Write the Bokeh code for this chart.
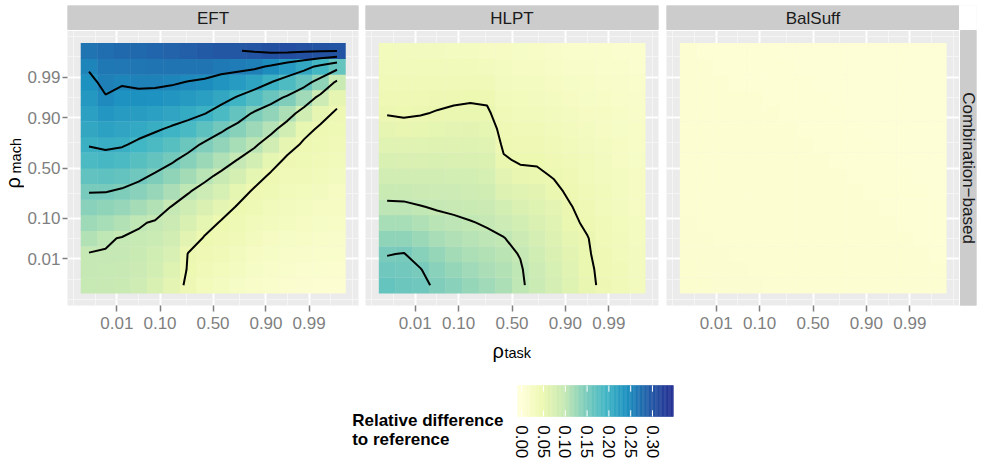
import numpy as np
from statistics import NormalDist

from bokeh.plotting import figure
from bokeh.layouts import row, column
from bokeh.models import Range1d, FixedTicker, Grid, LinearColorMapper, ColumnDataSource
from bokeh.transform import transform
from bokeh.core.properties import value
from bokeh.embed import file_html
from bokeh.resources import INLINE

# ---------------------------------------------------------------- data
# simulation grid, in probit (normal quantile) units, shared by rho_task and rho_mach
grid_q = [-3.0, -2.6, -2.2, -1.8, -1.4, -1.0, -0.6, -0.2, 0.2, 0.6, 1.0, 1.4, 1.8, 2.2, 2.6, 3.0]

tick_probs = [0.01, 0.10, 0.50, 0.90, 0.99]
tick_labels = ["0.01", "0.10", "0.50", "0.90", "0.99"]

heuristics = ["EFT", "HLPT", "BalSuff"]
row_label = "Combination\u2212based"

# relative difference to reference; one inner list per rho_task column,
# values ordered by rho_mach from low to high
eft = [
    [0.097, 0.098, 0.099, 0.111, 0.124, 0.138, 0.151, 0.169, 0.186, 0.202, 0.212, 0.222, 0.232, 0.242, 0.254, 0.270],
    [0.096, 0.097, 0.099, 0.102, 0.118, 0.134, 0.151, 0.170, 0.189, 0.206, 0.220, 0.234, 0.248, 0.258, 0.266, 0.275],
    [0.094, 0.096, 0.098, 0.099, 0.111, 0.129, 0.146, 0.166, 0.185, 0.203, 0.216, 0.228, 0.241, 0.253, 0.267, 0.280],
    [0.088, 0.091, 0.094, 0.097, 0.102, 0.120, 0.138, 0.157, 0.175, 0.194, 0.211, 0.227, 0.242, 0.256, 0.268, 0.280],
    [0.075, 0.081, 0.086, 0.092, 0.098, 0.111, 0.129, 0.146, 0.166, 0.185, 0.204, 0.222, 0.240, 0.256, 0.270, 0.283],
    [0.060, 0.068, 0.076, 0.083, 0.091, 0.099, 0.116, 0.135, 0.154, 0.175, 0.196, 0.216, 0.235, 0.254, 0.269, 0.285],
    [0.046, 0.048, 0.049, 0.062, 0.075, 0.088, 0.102, 0.121, 0.140, 0.161, 0.187, 0.210, 0.230, 0.249, 0.270, 0.290],
    [0.035, 0.039, 0.044, 0.048, 0.059, 0.074, 0.090, 0.107, 0.126, 0.145, 0.172, 0.201, 0.223, 0.245, 0.269, 0.295],
    [0.030, 0.035, 0.039, 0.044, 0.048, 0.060, 0.077, 0.094, 0.113, 0.133, 0.155, 0.185, 0.212, 0.236, 0.264, 0.298],
    [0.025, 0.030, 0.034, 0.039, 0.043, 0.048, 0.059, 0.079, 0.099, 0.119, 0.140, 0.166, 0.197, 0.228, 0.261, 0.299],
    [0.020, 0.025, 0.029, 0.034, 0.038, 0.043, 0.047, 0.059, 0.082, 0.105, 0.125, 0.146, 0.181, 0.218, 0.257, 0.303],
    [0.016, 0.020, 0.025, 0.029, 0.034, 0.038, 0.043, 0.047, 0.059, 0.084, 0.109, 0.133, 0.162, 0.201, 0.246, 0.308],
    [0.013, 0.017, 0.021, 0.025, 0.030, 0.034, 0.038, 0.042, 0.046, 0.058, 0.085, 0.114, 0.145, 0.183, 0.230, 0.309],
    [0.011, 0.015, 0.019, 0.023, 0.027, 0.031, 0.035, 0.039, 0.043, 0.047, 0.056, 0.086, 0.122, 0.164, 0.213, 0.306],
    [0.010, 0.014, 0.017, 0.021, 0.025, 0.029, 0.032, 0.036, 0.040, 0.043, 0.047, 0.057, 0.090, 0.135, 0.192, 0.304],
    [0.009, 0.012, 0.016, 0.019, 0.022, 0.026, 0.029, 0.033, 0.036, 0.040, 0.043, 0.047, 0.057, 0.094, 0.165, 0.302],
]

hlpt = [
    [0.165, 0.157, 0.149, 0.134, 0.119, 0.104, 0.094, 0.084, 0.075, 0.066, 0.057, 0.049, 0.045, 0.042, 0.038, 0.035],
    [0.160, 0.155, 0.151, 0.135, 0.119, 0.104, 0.093, 0.083, 0.074, 0.064, 0.055, 0.048, 0.045, 0.041, 0.038, 0.034],
    [0.157, 0.151, 0.140, 0.126, 0.113, 0.101, 0.091, 0.083, 0.074, 0.065, 0.056, 0.049, 0.045, 0.041, 0.037, 0.033],
    [0.145, 0.138, 0.131, 0.117, 0.107, 0.098, 0.090, 0.083, 0.075, 0.067, 0.059, 0.051, 0.046, 0.041, 0.037, 0.032],
    [0.138, 0.130, 0.121, 0.112, 0.104, 0.096, 0.089, 0.082, 0.074, 0.067, 0.060, 0.053, 0.047, 0.042, 0.036, 0.031],
    [0.130, 0.123, 0.115, 0.108, 0.101, 0.094, 0.088, 0.081, 0.074, 0.068, 0.061, 0.054, 0.048, 0.042, 0.036, 0.030],
    [0.122, 0.116, 0.110, 0.104, 0.098, 0.091, 0.085, 0.078, 0.072, 0.066, 0.059, 0.053, 0.047, 0.040, 0.034, 0.028],
    [0.115, 0.110, 0.105, 0.101, 0.090, 0.081, 0.071, 0.062, 0.052, 0.047, 0.044, 0.040, 0.037, 0.033, 0.030, 0.026],
    [0.103, 0.102, 0.099, 0.091, 0.082, 0.073, 0.064, 0.055, 0.048, 0.045, 0.041, 0.038, 0.035, 0.031, 0.028, 0.024],
    [0.092, 0.089, 0.085, 0.080, 0.074, 0.068, 0.061, 0.053, 0.048, 0.044, 0.040, 0.037, 0.033, 0.030, 0.026, 0.022],
    [0.080, 0.077, 0.073, 0.069, 0.065, 0.060, 0.054, 0.049, 0.045, 0.041, 0.037, 0.034, 0.030, 0.027, 0.023, 0.020],
    [0.068, 0.065, 0.062, 0.058, 0.054, 0.051, 0.047, 0.044, 0.041, 0.037, 0.034, 0.031, 0.028, 0.025, 0.021, 0.018],
    [0.055, 0.054, 0.052, 0.051, 0.047, 0.044, 0.041, 0.038, 0.036, 0.033, 0.030, 0.028, 0.025, 0.022, 0.020, 0.017],
    [0.046, 0.045, 0.044, 0.042, 0.040, 0.038, 0.036, 0.034, 0.032, 0.030, 0.028, 0.026, 0.023, 0.021, 0.018, 0.016],
    [0.040, 0.039, 0.038, 0.036, 0.035, 0.033, 0.031, 0.030, 0.028, 0.026, 0.024, 0.023, 0.021, 0.019, 0.017, 0.015],
    [0.034, 0.033, 0.032, 0.031, 0.030, 0.029, 0.027, 0.026, 0.025, 0.023, 0.022, 0.020, 0.019, 0.017, 0.015, 0.014],
]

balsuff = [
    [0.012, 0.012, 0.011, 0.011, 0.011, 0.010, 0.010, 0.010, 0.009, 0.009, 0.009, 0.009, 0.008, 0.008, 0.008, 0.008],
    [0.012, 0.011, 0.011, 0.011, 0.010, 0.010, 0.010, 0.010, 0.009, 0.009, 0.009, 0.008, 0.008, 0.008, 0.008, 0.007],
    [0.011, 0.011, 0.011, 0.010, 0.010, 0.010, 0.010, 0.009, 0.009, 0.009, 0.009, 0.008, 0.008, 0.008, 0.007, 0.007],
    [0.011, 0.011, 0.010, 0.010, 0.010, 0.010, 0.009, 0.009, 0.009, 0.009, 0.008, 0.008, 0.008, 0.007, 0.007, 0.007],
    [0.011, 0.010, 0.010, 0.010, 0.010, 0.009, 0.009, 0.009, 0.009, 0.008, 0.008, 0.008, 0.008, 0.007, 0.007, 0.007],
    [0.010, 0.010, 0.010, 0.010, 0.009, 0.009, 0.009, 0.009, 0.008, 0.008, 0.008, 0.008, 0.007, 0.007, 0.007, 0.007],
    [0.010, 0.010, 0.010, 0.009, 0.009, 0.009, 0.009, 0.008, 0.008, 0.008, 0.008, 0.007, 0.007, 0.007, 0.007, 0.006],
    [0.010, 0.010, 0.009, 0.009, 0.009, 0.009, 0.008, 0.008, 0.008, 0.008, 0.007, 0.007, 0.007, 0.007, 0.006, 0.006],
    [0.010, 0.009, 0.009, 0.009, 0.009, 0.008, 0.008, 0.008, 0.008, 0.007, 0.007, 0.007, 0.007, 0.006, 0.006, 0.006],
    [0.009, 0.009, 0.009, 0.009, 0.008, 0.008, 0.008, 0.008, 0.007, 0.007, 0.007, 0.007, 0.006, 0.006, 0.006, 0.006],
    [0.009, 0.009, 0.009, 0.008, 0.008, 0.008, 0.008, 0.007, 0.007, 0.007, 0.007, 0.006, 0.006, 0.006, 0.006, 0.005],
    [0.009, 0.009, 0.008, 0.008, 0.008, 0.008, 0.007, 0.007, 0.007, 0.007, 0.006, 0.006, 0.006, 0.006, 0.005, 0.005],
    [0.009, 0.008, 0.008, 0.008, 0.008, 0.007, 0.007, 0.007, 0.007, 0.006, 0.006, 0.006, 0.006, 0.005, 0.005, 0.005],
    [0.008, 0.008, 0.008, 0.008, 0.007, 0.007, 0.007, 0.007, 0.006, 0.006, 0.006, 0.006, 0.005, 0.005, 0.005, 0.005],
    [0.008, 0.008, 0.008, 0.007, 0.007, 0.007, 0.007, 0.006, 0.006, 0.006, 0.006, 0.005, 0.005, 0.005, 0.005, 0.004],
    [0.008, 0.008, 0.007, 0.007, 0.007, 0.007, 0.006, 0.006, 0.006, 0.006, 0.005, 0.005, 0.005, 0.005, 0.004, 0.004],
]

contour_levels = [0.05, 0.10, 0.15, 0.20, 0.25, 0.30]
legend_breaks = [0.00, 0.05, 0.10, 0.15, 0.20, 0.25, 0.30]
legend_labels = ["0.00", "0.05", "0.10", "0.15", "0.20", "0.25", "0.30"]
fill_low, fill_high = 0.0, 0.339
legend_title = ["Relative difference", "to reference"]

# ---------------------------------------------------------------- style / geometry
FONT = "Liberation Sans"
GREY_TEXT = "#7F7F7F"
PANEL_BG = "#EBEBEB"
STRIP_BG = "#CCCCCC"

LIM = 3.52              # half extent of each panel, probit units
PANEL_W, PANEL_H = 293, 275
STRIP_H = 25            # top strip incl. 1px gap
RSTRIP_W = 17           # right strip incl. 1px gap
TOP_H = 338
TOP_BORDER = 5
BOTTOM_BORDER = TOP_H - TOP_BORDER - STRIP_H - PANEL_H
TOTAL_W, TOTAL_H = 988, 471
FRAME1_LEFT = 65        # left edge of the first panel
YTITLE_W = 24
PXX = PANEL_W / (2 * LIM)
PXY = PANEL_H / (2 * LIM)

ylgnbu = ["#ffffd9", "#edf8b1", "#c7e9b4", "#7fcdbb", "#41b6c4", "#1d91c0", "#225ea8", "#253494"]


def ramp(stops, n=256):
    rgb = np.array([[int(c[i:i + 2], 16) for i in (1, 3, 5)] for c in stops], dtype=float)
    pos = np.linspace(0, 1, len(stops))
    t = np.linspace(0, 1, n)
    out = np.stack([np.interp(t, pos, rgb[:, k]) for k in range(3)], axis=1)
    return ["#%02x%02x%02x" % tuple(int(round(v)) for v in c) for c in out]


mapper = LinearColorMapper(palette=ramp(ylgnbu), low=fill_low, high=fill_high)

nd = NormalDist()
ticks_q = [nd.inv_cdf(p) for p in tick_probs]
ext = [2 * ticks_q[0] - ticks_q[1]] + ticks_q + [2 * ticks_q[-1] - ticks_q[-2]]
minor_q = [ext[0]] + [(a + b) / 2 for a, b in zip(ext[:-1], ext[1:])] + [ext[-1]]
overrides = {t: lab for t, lab in zip(ticks_q, tick_labels)}


def style_axis(ax, tick_out, standoff):
    ax.ticker = FixedTicker(ticks=ticks_q)
    ax.major_label_overrides = overrides
    ax.axis_line_color = None
    ax.major_tick_line_color = GREY_TEXT
    ax.major_tick_line_width = 1.5
    ax.major_tick_out = tick_out
    ax.major_tick_in = 0
    ax.minor_tick_line_color = None
    ax.major_label_text_font = FONT
    ax.major_label_text_font_size = "17px"
    ax.major_label_text_color = GREY_TEXT
    ax.major_label_standoff = standoff


def style_grid(g):
    g.ticker = FixedTicker(ticks=ticks_q, minor_ticks=minor_q)
    g.grid_line_color = "white"
    g.grid_line_width = 2
    g.minor_grid_line_color = "#F5F5F5"
    g.minor_grid_line_width = 1


def make_panel(name, cols, left_border, right_border, first=False, last=False):
    z = np.array(cols).T                     # rows: rho_mach, columns: rho_task
    gx, gy = np.meshgrid(grid_q, grid_q)
    step = grid_q[1] - grid_q[0]
    x_end = LIM + (RSTRIP_W / PXX if last else 0.0)
    y_end = LIM + STRIP_H / PXY
    frame_w = PANEL_W + (RSTRIP_W if last else 0)

    p = figure(width=left_border + frame_w + right_border, height=TOP_H,
               x_range=Range1d(-LIM, x_end), y_range=Range1d(-LIM, y_end),
               output_backend="svg", toolbar_location=None, title=None,
               y_axis_location="left" if first else None,
               min_border_left=left_border, min_border_right=right_border,
               min_border_top=TOP_BORDER, min_border_bottom=BOTTOM_BORDER,
               background_fill_color=PANEL_BG, border_fill_color="white",
               outline_line_color=None)

    style_axis(p.xaxis[0], 6, 5)
    for g in p.xgrid:
        style_grid(g)
    if first:
        style_axis(p.yaxis[0], 5, 2)
    if len(p.ygrid) == 0:
        p.add_layout(Grid(dimension=1))
    for g in p.ygrid:
        style_grid(g)

    # raster tiles
    src = ColumnDataSource(dict(x=gx.ravel(), y=gy.ravel(), z=z.ravel()))
    p.rect("x", "y", width=step, height=step, source=src, dilate=True,
           fill_color=transform("z", mapper), line_color=None)

    # iso-lines
    levels = [lv for lv in contour_levels if z.min() < lv < z.max()]
    if levels:
        p.contour(grid_q, grid_q, z, levels=levels, line_color="black", line_width=2)

    # facet strip on top
    gap_y = 1 / PXY
    p.quad(left=[-LIM], right=[x_end], bottom=[LIM], top=[LIM + gap_y], color="white")
    p.quad(left=[-LIM], right=[LIM], bottom=[LIM + gap_y], top=[y_end], color=STRIP_BG)
    p.text(x=[0], y=[LIM + 12.5 / PXY], text=[name],
           text_align="center", text_baseline="middle",
           text_font=value(FONT), text_font_size="17px", text_color="#1A1A1A")

    if last:
        gap_x = 1 / PXX
        p.quad(left=[LIM], right=[LIM + gap_x], bottom=[-LIM], top=[y_end], color="white")
        p.quad(left=[LIM], right=[x_end], bottom=[LIM], top=[y_end], color="white")
        p.quad(left=[LIM + gap_x], right=[x_end], bottom=[-LIM], top=[LIM], color=STRIP_BG)
        p.text(x=[LIM + (RSTRIP_W / 2 + 0.5) / PXX], y=[0], text=[row_label], angle=-np.pi / 2,
               text_align="center", text_baseline="middle",
               text_font=value(FONT), text_font_size="17px", text_color="#1A1A1A")
    return p


f1_w = FRAME1_LEFT - YTITLE_W + PANEL_W + 3
f1 = make_panel(heuristics[0], eft, FRAME1_LEFT - YTITLE_W, 3, first=True)
f2 = make_panel(heuristics[1], hlpt, 4, 4)
f3 = make_panel(heuristics[2], balsuff, 4,
                TOTAL_W - YTITLE_W - f1_w - (PANEL_W + 8) - 4 - PANEL_W - RSTRIP_W, last=True)

# y axis title: rho with subscript "mach", reading upwards
ytitle = figure(width=YTITLE_W, height=TOP_H, x_range=Range1d(0, YTITLE_W), y_range=f1.y_range,
                output_backend="svg", toolbar_location=None, title=None,
                x_axis_location=None, y_axis_location=None,
                min_border_left=0, min_border_right=0,
                min_border_top=TOP_BORDER, min_border_bottom=BOTTOM_BORDER,
                background_fill_color="white", border_fill_color="white", outline_line_color=None)
for g in ytitle.grid:
    g.visible = False
ytitle.text(x=[12], y=[LIM - 158 / PXY], text=["\u03c1"], angle=np.pi / 2,
            text_align="left", text_baseline="alphabetic",
            text_font=value(FONT), text_font_size="20px", text_color="black")
ytitle.text(x=[15], y=[LIM - 143 / PXY], text=["mach"], angle=np.pi / 2,
            text_align="left", text_baseline="alphabetic",
            text_font=value(FONT), text_font_size="14.5px", text_color="black")

# ---------------------------------------------------------------- x title + colour bar legend
BAR_PX0, BAR_PPU = 521.2, 436.0       # pixel of value 0 and pixels per unit
leg_h = TOTAL_H - TOP_H
leg = figure(width=TOTAL_W, height=leg_h,
             x_range=Range1d(-BAR_PX0 / BAR_PPU, (TOTAL_W - BAR_PX0) / BAR_PPU),
             y_range=Range1d(0, leg_h),
             output_backend="svg", toolbar_location=None, title=None,
             x_axis_location=None, y_axis_location=None,
             min_border_left=0, min_border_right=0, min_border_top=0, min_border_bottom=0,
             background_fill_color="white", border_fill_color="white", outline_line_color=None)
for g in leg.grid:
    g.visible = False

# x axis title: rho with subscript "task", centred under the middle panel
leg.text(x=[(492 - BAR_PX0) / BAR_PPU], y=[TOTAL_H - 350], text=["\u03c1"],
         text_align="left", text_baseline="alphabetic",
         text_font=value(FONT), text_font_size="20px", text_color="black")
leg.text(x=[(504 - BAR_PX0) / BAR_PPU], y=[TOTAL_H - 352.5], text=["task"],
         text_align="left", text_baseline="alphabetic",
         text_font=value(FONT), text_font_size="14.5px", text_color="black")

# gradient bar: spans the fill limits plus half a 20-bin step on each side
half = (fill_high - fill_low) / 19 / 2
n_slices = 120
edges = np.linspace(fill_low - half, fill_high + half, n_slices + 1)
mids = np.clip((edges[:-1] + edges[1:]) / 2, fill_low, fill_high)
slice_cols = [mapper.palette[int(round((v - fill_low) / (fill_high - fill_low) * 255))] for v in mids]
bar_bottom, bar_top = 55, 86
leg.quad(left=edges[:-1], right=edges[1:], bottom=bar_bottom, top=bar_top,
         fill_color=slice_cols, line_color=slice_cols, line_width=0.5)
tick_len = (bar_top - bar_bottom) / 5
leg.segment(x0=legend_breaks, x1=legend_breaks, y0=bar_bottom, y1=bar_bottom + tick_len,
            line_color="white", line_width=1)
leg.segment(x0=legend_breaks, x1=legend_breaks, y0=bar_top - tick_len, y1=bar_top,
            line_color="white", line_width=1)
leg.text(x=legend_breaks, y=[bar_bottom - 8.7] * len(legend_breaks), text=legend_labels,
         angle=-np.pi / 2, text_align="left", text_baseline="middle",
         text_font=value(FONT), text_font_size="17px", text_color="black")
leg.text(x=[(351.7 - BAR_PX0) / BAR_PPU] * 2, y=[51, 32.5], text=legend_title,
         text_align="left", text_baseline="alphabetic",
         text_font=value(FONT), text_font_size="17px", text_font_style="bold", text_color="black")

layout = column(row(ytitle, f1, f2, f3, spacing=0), leg, spacing=0)

with open("out.html", "w") as fh:
    fh.write(file_html(layout, INLINE))
